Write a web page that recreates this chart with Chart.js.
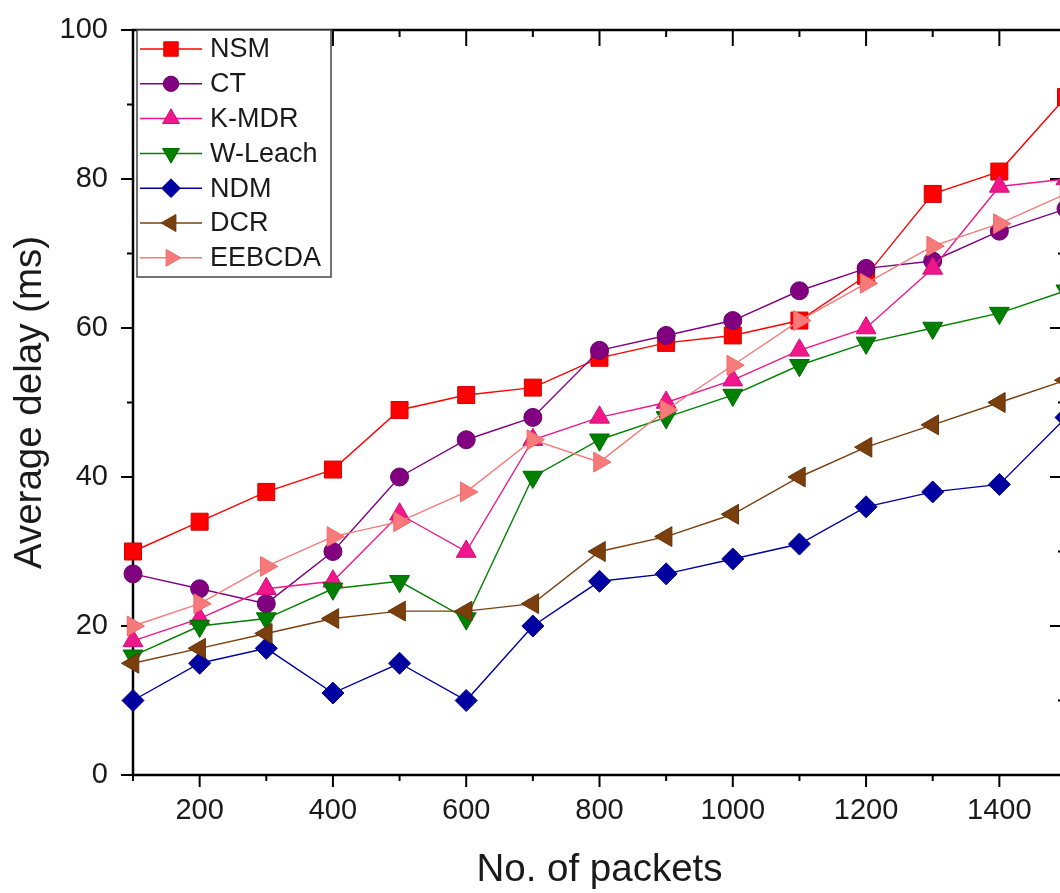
<!DOCTYPE html>
<html>
<head>
<meta charset="utf-8">
<script src="https://cdn.jsdelivr.net/npm/chart.js@4.4.1/dist/chart.umd.min.js"></script>
<style>
  html, body { margin: 0; padding: 0; background: #fff; overflow: hidden; }
  canvas { display: block; }
</style>
</head>
<body>
<canvas id="delay-chart" width="1080" height="893"></canvas>
<script>
const packets = [100, 200, 300, 400, 500, 600, 700, 800, 900, 1000, 1100, 1200, 1300, 1400, 1500];

const nsm    = [30, 34, 38, 41, 49, 51, 52, 56, 58, 59, 61, 67, 78, 81, 91];
const ct     = [27, 25, 23, 30, 40, 45, 48, 57, 59, 61, 65, 68, 69, 73, 76];
const kmdr   = [18, 21, 25, 26, 35, 30, 45, 48, 50, 53, 57, 60, 68, 79, 80];
const wleach = [16, 20, 21, 25, 26, 21, 40, 45, 48, 51, 55, 58, 60, 62, 65];
const ndm    = [10, 15, 17, 11, 15, 10, 20, 26, 27, 29, 31, 36, 38, 39, 48];
const dcr    = [15, 17, 19, 21, 22, 22, 23, 30, 32, 35, 40, 44, 47, 50, 53];
const eebcda = [20, 23, 28, 32, 34, 38, 45, 42, 49, 55, 61, 66, 71, 74, 78];

const seriesNames = ['NSM', 'CT', 'K-MDR', 'W-Leach', 'NDM', 'DCR', 'EEBCDA'];
const seriesValues = [nsm, ct, kmdr, wleach, ndm, dcr, eebcda];

const xTicks = [200, 400, 600, 800, 1000, 1200, 1400];
const yTicks = [0, 20, 40, 60, 80, 100];

const FONT = "'Liberation Sans', Arial, sans-serif";

// marker look per series
const styles = [
  { color: '#ff0000', border: '#d00000', point: 'rect',     rot: 0,   r: 12 },
  { color: '#800080', border: '#6a006a', point: 'circle',   rot: 0,   r: 9 },
  { color: '#f0168c', border: '#d0107a', point: 'triangle', rot: 0,   r: 11.5 },
  { color: '#008000', border: '#006a00', point: 'triangle', rot: 180, r: 11.5 },
  { color: '#0000a0', border: '#00008a', point: 'rectRot',  rot: 0,   r: 11 },
  { color: '#7b3f0e', border: '#66330a', point: 'triangle', rot: -90, r: 11.5 },
  { color: '#f77a7a', border: '#f06a6a', point: 'triangle', rot: 90,  r: 11.5 }
];

function drawMarker(ctx, st, x, y, scale) {
  ctx.save();
  ctx.fillStyle = st.color;
  ctx.strokeStyle = st.border;
  ctx.lineWidth = 1;
  Chart.helpers.drawPoint(ctx, {
    pointStyle: st.point,
    rotation: st.rot,
    radius: st.r * scale,
    borderWidth: 1
  }, x, y);
  ctx.restore();
}

// black frame with ticks: outward on bottom/left, inward on top/right
const framePlugin = {
  id: 'frame',
  beforeDatasetsDraw(chart) {
    const { ctx, chartArea: a, scales } = chart;
    ctx.save();
    ctx.strokeStyle = '#000';
    ctx.lineWidth = 2.5;
    ctx.strokeRect(a.left, a.top, a.right - a.left, a.bottom - a.top);
    ctx.lineWidth = 2;
    for (let v = 100; v <= 1500; v += 100) {
      const px = scales.x.getPixelForValue(v);
      const major = v % 200 === 0;
      ctx.beginPath();
      ctx.moveTo(px, a.bottom);
      ctx.lineTo(px, a.bottom + (major ? 12 : 6));
      ctx.moveTo(px, a.top);
      ctx.lineTo(px, a.top + (major ? 16 : 7));
      ctx.stroke();
    }
    for (let v = 0; v <= 100; v += 10) {
      const py = scales.y.getPixelForValue(v);
      const major = v % 20 === 0;
      ctx.beginPath();
      ctx.moveTo(a.left, py);
      ctx.lineTo(a.left - (major ? 12 : 6), py);
      ctx.moveTo(a.right, py);
      ctx.lineTo(a.right - (major ? 16 : 8), py);
      ctx.stroke();
    }
    ctx.restore();
  }
};

// boxed legend in the top left corner, line with marker like Origin
const legendPlugin = {
  id: 'boxLegend',
  afterDraw(chart) {
    const { ctx, chartArea: a } = chart;
    const left = a.left + 4, top = a.top, w = 194, h = 247;
    ctx.save();
    ctx.fillStyle = '#fff';
    ctx.fillRect(left, top, w, h);
    ctx.strokeStyle = '#444';
    ctx.lineWidth = 1.5;
    ctx.strokeRect(left, top, w, h);
    ctx.font = '27px ' + FONT;
    ctx.textBaseline = 'middle';
    seriesNames.forEach((name, i) => {
      const y = top + 19 + i * 34.8;
      const st = styles[i];
      ctx.strokeStyle = st.color;
      ctx.lineWidth = 1.5;
      ctx.beginPath();
      ctx.moveTo(left + 3, y);
      ctx.lineTo(left + 65, y);
      ctx.stroke();
      drawMarker(ctx, st, left + 34, y, 0.85);
      ctx.fillStyle = '#1a1a1a';
      ctx.fillText(name, left + 73, y + 1);
    });
    ctx.restore();
  }
};

const datasets = seriesNames.map((name, i) => ({
  label: name,
  data: packets.map((p, j) => ({ x: p, y: seriesValues[i][j] })),
  borderColor: styles[i].color,
  backgroundColor: styles[i].color,
  pointBorderColor: styles[i].border,
  pointBorderWidth: 1,
  borderWidth: 1.4,
  pointStyle: styles[i].point,
  pointRotation: styles[i].rot,
  pointRadius: styles[i].r,
  tension: 0,
  clip: false,
  order: seriesNames.length - i
}));

function delayChart() {
  const canvas = document.getElementById('delay-chart');
  new Chart(canvas, {
    type: 'line',
    data: { datasets: datasets },
    options: {
      responsive: false,
      animation: false,
      devicePixelRatio: 1,
      layout: { padding: { top: 30, right: 14, left: 0, bottom: 0 } },
      plugins: { legend: { display: false }, tooltip: { enabled: false } },
      scales: {
        x: {
          type: 'linear',
          min: 100,
          max: 1500,
          afterFit: (s) => { s.height = 118; },
          afterBuildTicks: (s) => { s.ticks = xTicks.map(v => ({ value: v })); },
          grid: { display: false, drawTicks: false },
          border: { display: false },
          ticks: {
            autoSkip: false,
            maxRotation: 0,
            padding: 19,
            color: '#1a1a1a',
            font: { family: FONT, size: 29 },
            callback: (v) => String(v)
          },
          title: {
            display: true,
            text: 'No. of packets',
            color: '#1a1a1a',
            font: { family: FONT, size: 38.5 },
            padding: { top: 0, bottom: 0 }
          }
        },
        y: {
          min: 0,
          max: 100,
          afterFit: (s) => {
            s.width = 133;
            s.paddingTop = 0;
            s.paddingBottom = 0;
          },
          afterBuildTicks: (s) => { s.ticks = yTicks.map(v => ({ value: v })); },
          grid: { display: false, drawTicks: false },
          border: { display: false },
          ticks: {
            padding: 25,
            color: '#1a1a1a',
            font: { family: FONT, size: 29 },
            callback: (v) => String(v)
          },
          title: {
            display: true,
            text: 'Average delay (ms)',
            color: '#1a1a1a',
            font: { family: FONT, size: 38.5 },
            padding: { top: 7, bottom: 0 }
          }
        }
      }
    },
    plugins: [framePlugin, legendPlugin]
  });
}

delayChart()
</script>
</body>
</html>
